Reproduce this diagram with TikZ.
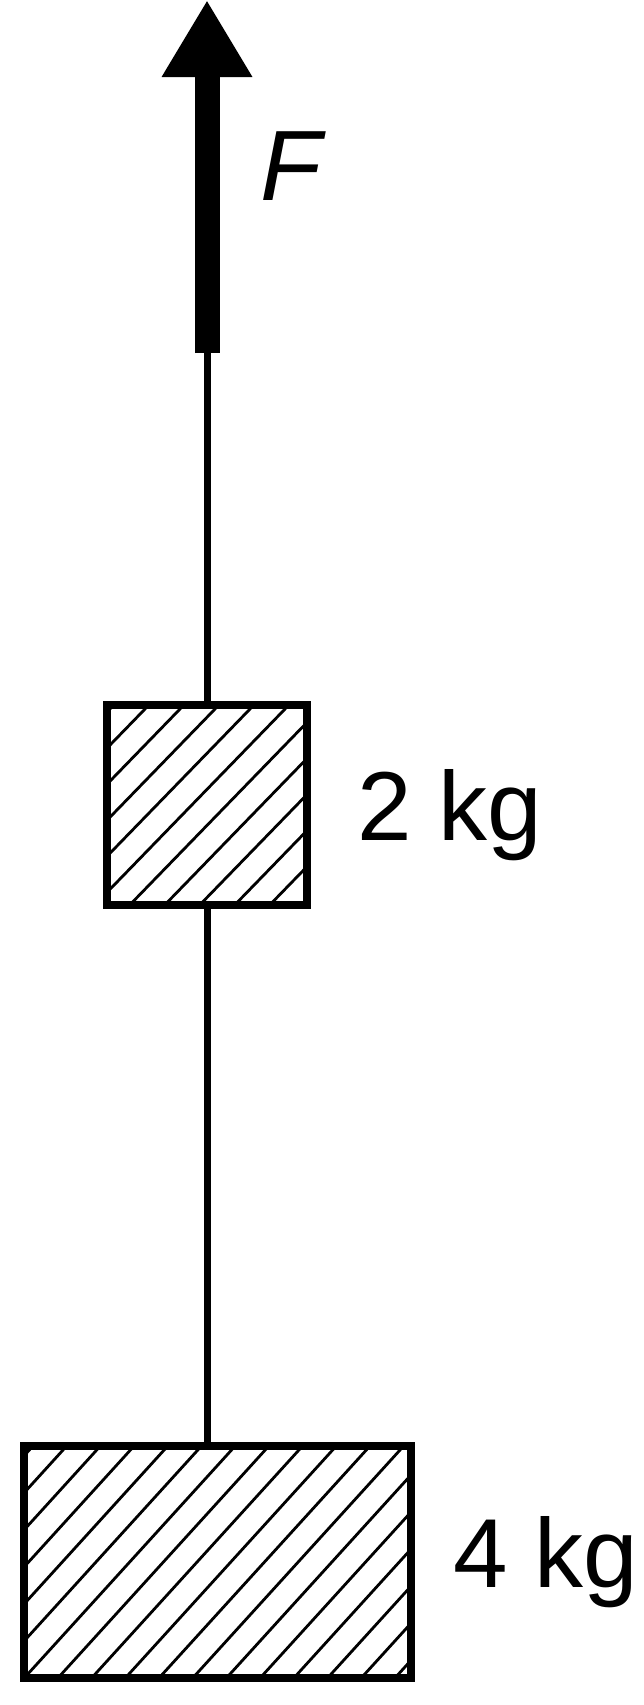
\documentclass[tikz,border=0pt]{standalone}
\usepackage{fontspec}
\setmainfont{Liberation Sans}
\usetikzlibrary{arrows.meta, positioning}

\tikzset{
  mass/.style={draw, line width=8pt, inner sep=0pt, outer sep=0pt},
  rope/.style={line width=7pt},
  hatch/.style={line width=2.8pt},
  masslabel/.style={inner sep=0pt, anchor=base west, font=\fontsize{98}{100}\selectfont},
}

\begin{document}
\begin{tikzpicture}[x=1pt,y=-1pt]
        \useasboundingbox (0,0) rectangle (644,1705);

        % Draw the two masses
        \node[mass, minimum width=200pt, minimum height=200pt] (m2) at (207,805) {};
        \node[mass, minimum width=387pt, minimum height=232pt] (m4) at (217.5,1562) {};

        % Hatch the masses
        \begin{scope}
            \clip (m2.south west) rectangle (m2.north east);
            \foreach \i in {-3,...,12}
                \draw[hatch] ({145+35*\i+150},{709-154.5}) -- ++(-500,515);
        \end{scope}
        \begin{scope}
            \clip (m4.south west) rectangle (m4.north east);
            \foreach \i in {-3,...,19}
                \draw[hatch] ({63+33.7*\i+150},{1450-165}) -- ++(-500,550);
        \end{scope}

        % Draw the ropes and the force
        \coordinate (shaft) at (207,353);
        \coordinate (tip) at (207,0);
        \draw[rope] (m2.south) -- (m2.south |- m4.north);
        \draw[rope] (m2.north) -- (shaft);
        \draw[line width=25pt, -{Triangle[width=85pt,length=77pt]}] (shaft) -- (tip);

        % Label the masses and the force
        \node[masslabel] (lab2) at ([xshift=50pt,yshift=-35pt]m2.east) {2 kg};
        \node[masslabel] (lab4) at ([xshift=42pt,yshift=-25pt]m4.east) {4 kg};
        \node[masslabel, font=\fontsize{100}{100}\selectfont\itshape] (flab) at (260,200) {F};
    \end{tikzpicture}
\end{document}
